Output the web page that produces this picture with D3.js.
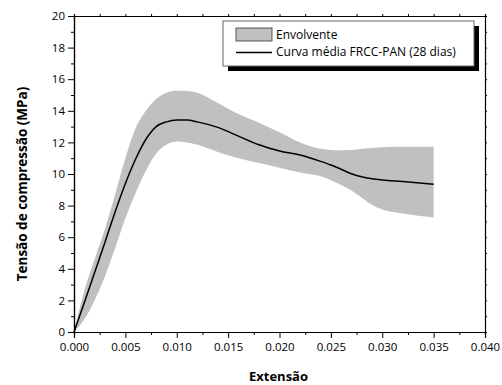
<!DOCTYPE html>
<html>
<head>
<meta charset="utf-8">
<script src="https://cdn.jsdelivr.net/npm/d3@7"></script>
<style>
  body { margin: 0; background: #fff; }
  text { font-family: "Open Sans", sans-serif; fill: #000; }
</style>
</head>
<body>
<script>
// mean curve
const strain = [0, 0.001, 0.002, 0.003, 0.004, 0.005, 0.006, 0.007, 0.008, 0.009, 0.010, 0.011, 0.012,
  0.014, 0.016, 0.018, 0.020, 0.022, 0.024, 0.025, 0.026, 0.027, 0.028, 0.029, 0.030, 0.032, 0.035];
const mean = [0, 1.85, 3.75, 5.65, 7.6, 9.4, 10.95, 12.2, 13.0, 13.3, 13.42, 13.42, 13.3,
  12.95, 12.4, 11.85, 11.45, 11.2, 10.8, 10.57, 10.3, 10.02, 9.82, 9.7, 9.62, 9.52, 9.35];
// envelope
const upper = [0, 2.6, 4.6, 6.5, 8.7, 11.0, 12.9, 14.0, 14.75, 15.15, 15.27, 15.25, 15.15,
  14.5, 13.8, 13.25, 12.65, 12.0, 11.6, 11.52, 11.5, 11.52, 11.6, 11.65, 11.7, 11.73, 11.73];
const lower = [0, 0.8, 2.0, 3.5, 5.3, 7.2, 8.8, 10.2, 11.3, 11.85, 12.05, 12.0, 11.85,
  11.4, 11.0, 10.7, 10.4, 10.1, 9.85, 9.6, 9.3, 8.95, 8.5, 8.05, 7.75, 7.5, 7.25];

const xTicks = [0, 0.005, 0.01, 0.015, 0.02, 0.025, 0.03, 0.035, 0.04];
const yTicks = [0, 2, 4, 6, 8, 10, 12, 14, 16, 18, 20];
const legendLabels = ['Envolvente', 'Curva média FRCC-PAN (28 dias)'];

const W = 502, H = 385;
const m = {left: 74, right: 17, top: 16, bottom: 53};

const svg = d3.select('body').append('svg')
  .attr('width', W)
  .attr('height', H);

const x = d3.scaleLinear().domain([0, 0.04]).range([m.left, W - m.right]);
const y = d3.scaleLinear().domain([0, 20]).range([H - m.bottom, m.top]);

const rows = strain.map((s, i) => ({s: s, m: mean[i], u: upper[i], l: lower[i]}));

// envelope band
svg.append('path')
  .datum(rows)
  .attr('fill', '#c0c0c0')
  .attr('d', d3.area()
    .curve(d3.curveMonotoneX)
    .x(d => x(d.s))
    .y0(d => y(d.l))
    .y1(d => y(d.u)));

// mean line
svg.append('path')
  .datum(rows)
  .attr('fill', 'none')
  .attr('stroke', '#000')
  .attr('stroke-width', 1.5)
  .attr('d', d3.line()
    .curve(d3.curveMonotoneX)
    .x(d => x(d.s))
    .y(d => y(d.m)));

const fmt = d3.format('.3f');

// axes
svg.append('g')
  .attr('transform', `translate(0,${H - m.bottom})`)
  .call(d3.axisBottom(x).tickValues(xTicks).tickFormat(fmt).tickSize(6).tickPadding(5));
svg.append('g')
  .attr('transform', `translate(0,${H - m.bottom})`)
  .call(d3.axisBottom(x).tickValues(d3.range(0.0025, 0.04, 0.005)).tickFormat('').tickSize(3));
svg.append('g')
  .attr('transform', `translate(${m.left},0)`)
  .call(d3.axisLeft(y).tickValues(yTicks).tickSize(6).tickPadding(3));
svg.append('g')
  .attr('transform', `translate(${m.left},0)`)
  .call(d3.axisLeft(y).tickValues(d3.range(1, 20, 2)).tickFormat('').tickSize(3));
svg.append('g')
  .attr('transform', `translate(0,${m.top})`)
  .call(d3.axisTop(x).tickValues(d3.range(0, 0.0401, 0.0025)).tickFormat('').tickSize(2));
svg.append('g')
  .attr('transform', `translate(${W - m.right},0)`)
  .call(d3.axisRight(y).tickValues(d3.range(0, 20.1, 1)).tickFormat('').tickSize(2));

svg.selectAll('.domain').attr('stroke', '#000').attr('stroke-width', 1.2);
svg.selectAll('.tick line').attr('stroke', '#000');
svg.selectAll('.tick text')
  .style('font-family', '"Open Sans", sans-serif')
  .style('font-size', '11.5px');

// axis titles
svg.append('text')
  .attr('x', (m.left + W - m.right) / 2 - 1)
  .attr('y', 381)
  .attr('text-anchor', 'middle')
  .style('font-size', '13px')
  .style('font-weight', 'bold')
  .text('Extensão');

svg.append('text')
  .attr('transform', `translate(27,${(m.top + H - m.bottom) / 2 + 10}) rotate(-90)`)
  .attr('text-anchor', 'middle')
  .style('font-size', '13.5px')
  .style('font-weight', 'bold')
  .text('Tensão de compressão (MPa)');

// legend
const lg = svg.append('g').attr('transform', 'translate(223,21)');
lg.append('rect')
  .attr('x', 5).attr('y', 5)
  .attr('width', 251).attr('height', 45)
  .attr('fill', '#000');
lg.append('rect')
  .attr('x', 0).attr('y', 0)
  .attr('width', 251).attr('height', 45)
  .attr('fill', '#fff')
  .attr('stroke', '#666')
  .attr('stroke-width', 1);
lg.append('rect')
  .attr('x', 13).attr('y', 7)
  .attr('width', 36).attr('height', 13)
  .attr('fill', '#c0c0c0')
  .attr('stroke', '#333')
  .attr('stroke-width', 0.8);
lg.append('line')
  .attr('x1', 13).attr('x2', 49)
  .attr('y1', 31.5).attr('y2', 31.5)
  .attr('stroke', '#000')
  .attr('stroke-width', 1.5);
lg.selectAll('.lt')
  .data(legendLabels)
  .enter()
  .append('text')
  .attr('class', 'lt')
  .attr('x', 53)
  .attr('y', (d, i) => 18 + i * 17)
  .style('font-size', '12px')
  .text(d => d);
</script>
</body>
</html>
